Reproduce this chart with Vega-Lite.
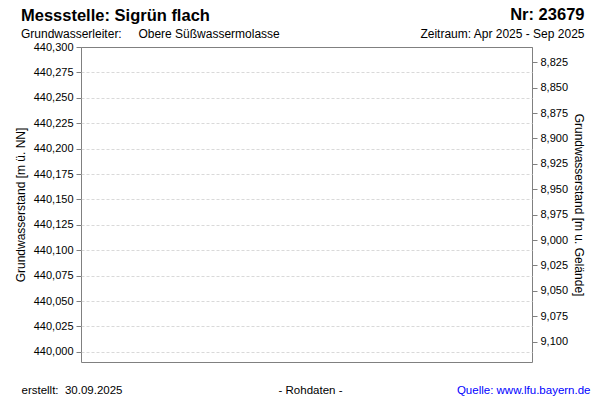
{
  "$schema": "https://vega.github.io/schema/vega-lite/v6.json",
  "description": "Grundwasserstand Messstelle Sigrün flach, Apr-Sep 2025 (keine Messwerte im Zeitraum).",
  "autosize": {"type": "none"},
  "padding": {"left": 81, "top": 47, "right": 68, "bottom": 38},
  "width": 451,
  "height": 315,
  "title": {
    "text": "Messstelle: Sigrün flach",
    "subtitle": "Grundwasserleiter:\u00a0\u00a0\u00a0\u00a0\u00a0Obere Süßwassermolasse",
    "anchor": "start",
    "frame": "group",
    "dx": -60,
    "offset": -34,
    "font": "Liberation Sans",
    "fontSize": 16.5,
    "fontWeight": "bold",
    "color": "black",
    "subtitleFont": "Liberation Sans",
    "subtitleFontSize": 12,
    "subtitleColor": "black",
    "subtitlePadding": 5
  },
  "data": {
    "values": [
      {"Datum": "2025-04-01", "NN": null, "GOK": null},
      {"Datum": "2025-09-30", "NN": null, "GOK": null}
    ]
  },
  "layer": [
    {
      "mark": {"type": "point", "opacity": 0},
      "encoding": {
        "x": {
          "field": "Datum",
          "type": "temporal",
          "scale": {"domain": [{"year": 2025, "month": 4, "date": 1}, {"year": 2025, "month": 9, "date": 30}]},
          "axis": {
            "orient": "bottom",
            "labels": false, "ticks": false, "domain": false, "grid": false,
            "title": "- Rohdaten -",
            "titleFontSize": 11.5,
            "titleX": 229, "titleY": 28, "titleAlign": "center", "titleBaseline": "middle"
          }
        },
        "y": {
          "field": "NN",
          "type": "quantitative",
          "scale": {"domain": [439.99, 440.3], "nice": false, "zero": false},
          "axis": {
            "orient": "left",
            "values": [440, 440.025, 440.05, 440.075, 440.1, 440.125, 440.15, 440.175, 440.2, 440.225, 440.25, 440.275, 440.3],
            "labelExpr": "replace(format(datum.value, '.3f'), '.', ',')",
            "grid": true,
            "gridColor": {"condition": {"test": "datum.value >= 440.3", "value": "#808080"}, "value": "#d9d9d9"},
            "gridDash": {"condition": {"test": "datum.value >= 440.3", "value": []}, "value": [3, 2]},
            "title": "Grundwasserstand [m ü. NN]",
            "titleAngle": -90, "titleX": -61, "titleY": 157.5, "titleBaseline": "middle", "titleAlign": "center"
          }
        }
      }
    },
    {
      "mark": {"type": "point", "opacity": 0},
      "encoding": {
        "x": {
          "field": "Datum",
          "type": "temporal",
          "axis": {
            "orient": "top",
            "labels": false, "ticks": false, "domain": false, "grid": false,
            "title": "Zeitraum: Apr 2025 - Sep 2025",
            "titleX": 503, "titleY": -14, "titleAlign": "right", "titleBaseline": "middle"
          }
        },
        "y": {
          "field": "GOK",
          "type": "quantitative",
          "scale": {"domain": [8.81, 9.12], "reverse": true, "nice": false, "zero": false},
          "axis": {
            "orient": "right",
            "values": [8.825, 8.85, 8.875, 8.9, 8.925, 8.95, 8.975, 9, 9.025, 9.05, 9.075, 9.1],
            "labelExpr": "replace(format(datum.value, '.3f'), '.', ',')",
            "grid": false,
            "title": "Grundwasserstand [m u. Gelände]",
            "titleAngle": 90, "titleX": 46, "titleY": 157.5, "titleBaseline": "middle", "titleAlign": "center"
          }
        }
      }
    },
    {
      "mark": {"type": "point", "opacity": 0},
      "encoding": {
        "x": {
          "field": "Datum",
          "type": "temporal",
          "axis": {
            "orient": "top",
            "labels": false, "ticks": false, "domain": false, "grid": false,
            "title": "Nr: 23679",
            "titleFontSize": 16.5, "titleFontWeight": "bold",
            "titleX": 503, "titleY": -33, "titleAlign": "right", "titleBaseline": "middle"
          }
        }
      }
    },
    {
      "mark": {"type": "point", "opacity": 0},
      "encoding": {
        "x": {
          "field": "Datum",
          "type": "temporal",
          "axis": {
            "orient": "bottom",
            "labels": false, "ticks": false, "domain": false, "grid": false,
            "title": "erstellt:\u00a0 30.09.2025",
            "titleFontSize": 11.5,
            "titleX": -60, "titleY": 28, "titleAlign": "left", "titleBaseline": "middle"
          }
        }
      }
    },
    {
      "mark": {"type": "point", "opacity": 0},
      "encoding": {
        "x": {
          "field": "Datum",
          "type": "temporal",
          "axis": {
            "orient": "bottom",
            "labels": false, "ticks": false, "domain": false, "grid": false,
            "title": "Quelle: www.lfu.bayern.de",
            "titleFontSize": 11.5,
            "titleColor": "#0000ff",
            "titleX": 509, "titleY": 28, "titleAlign": "right", "titleBaseline": "middle"
          }
        }
      }
    }
  ],
  "resolve": {
    "scale": {"y": "independent"},
    "axis": {"x": "independent", "y": "independent"}
  },
  "config": {
    "font": "Liberation Sans",
    "view": {"stroke": "#808080", "strokeWidth": 1},
    "axis": {
      "domain": false,
      "tickColor": "#808080",
      "tickSize": 5,
      "labelFont": "Liberation Sans",
      "labelFontSize": 11,
      "labelColor": "black",
      "labelPadding": 3,
      "titleFont": "Liberation Sans",
      "titleFontSize": 12,
      "titleFontWeight": "normal",
      "titleColor": "black",
      "gridColor": "#d9d9d9",
      "gridDash": [3, 2],
      "gridWidth": 1
    }
  }
}
